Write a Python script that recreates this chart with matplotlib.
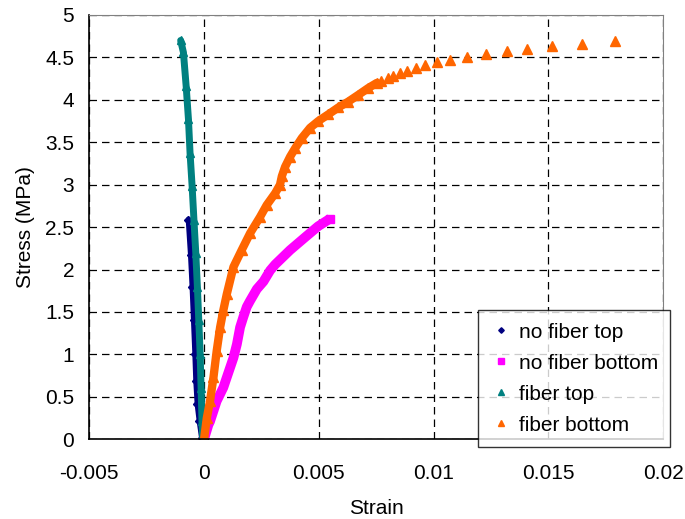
import numpy as np
import matplotlib
matplotlib.use('Agg')
import matplotlib.pyplot as plt

plt.rcParams['font.family'] = ['Liberation Sans', 'DejaVu Sans']

# no fiber top
nft_strain = [0.0, -0.00010, -0.00020, -0.00029, -0.00035, -0.00039, -0.00045, -0.00051, -0.00058, -0.00068]
nft_stress = [0.0, 0.02, 0.21, 0.41, 0.69, 1.00, 1.40, 1.79, 2.17, 2.59]

# no fiber bottom
nfb_strain = [0.0, 0.00019, 0.00026, 0.00055, 0.00084, 0.00099, 0.00128, 0.00143, 0.00157, 0.00171,
              0.00186, 0.0020, 0.0023, 0.00259, 0.00288, 0.0031, 0.00375, 0.0044, 0.00497, 0.00549]
nfb_stress = [0.0, 0.17, 0.21, 0.45, 0.61, 0.73, 0.96, 1.12, 1.32, 1.44,
              1.56, 1.63, 1.77, 1.86, 1.99, 2.06, 2.23, 2.38, 2.51, 2.60]

# fiber top
ft_strain = [-0.00006, -0.00009, -0.00013, -0.00017, -0.00023, -0.00029, -0.00036, -0.00044,
             -0.00052, -0.00061, -0.00068, -0.00078, -0.00090, -0.00102]
ft_stress = [0.02, 0.21, 0.61, 1.00, 1.40, 1.79, 2.19, 2.58, 2.98, 3.37, 3.77, 4.16, 4.56, 4.70]

# fiber bottom (dense part, then sparse tail)
fb_strain = [0.0, 0.00012, 0.00026, 0.00041, 0.00055, 0.00070, 0.00084, 0.00099, 0.00128, 0.00164,
             0.00201, 0.00244, 0.00273, 0.00310, 0.00331, 0.00339, 0.00353, 0.00375, 0.00397, 0.00426,
             0.00462, 0.00498, 0.00542, 0.00585, 0.00629, 0.00673, 0.00716, 0.00753,
             0.007729, 0.008007, 0.008239, 0.008531, 0.008836, 0.009255, 0.009647, 0.010171,
             0.010724, 0.011452, 0.012293, 0.013195, 0.014094, 0.015170, 0.016464, 0.017903]
fb_stress = [0.0, 0.25, 0.45, 0.73, 1.04, 1.32, 1.52, 1.71, 2.03, 2.23,
             2.43, 2.62, 2.76, 2.90, 3.00, 3.10, 3.21, 3.33, 3.43, 3.55,
             3.67, 3.75, 3.83, 3.91, 3.98, 4.06, 4.14, 4.20,
             4.226, 4.254, 4.285, 4.317, 4.345, 4.372, 4.408, 4.443,
             4.470, 4.502, 4.538, 4.570, 4.601, 4.633, 4.660, 4.692]
fb_dense = 28

fig = plt.figure(figsize=(6.85, 5.19), dpi=100)
ax = fig.add_axes([0.1304, 0.1536, 0.8375, 0.8175])

ax.plot(nft_strain, nft_stress, color='#000080', lw=4, solid_capstyle='round')
ax.plot(nft_strain, nft_stress, ls='none', marker='D', ms=4, color='#000080', label='no fiber top')
ax.plot(nfb_strain, nfb_stress, color='#FF00FF', lw=7, solid_capstyle='butt', solid_joinstyle='round')
ax.plot(nfb_strain[-1:], nfb_stress[-1:], ls='none', marker='s', ms=6, color='#FF00FF', label='no fiber bottom')
ax.plot(ft_strain, ft_stress, color='#008080', lw=5, solid_capstyle='round')
ax.plot(ft_strain, ft_stress, ls='none', marker='^', ms=6, color='#008080', label='fiber top')
ax.plot(fb_strain[:fb_dense], fb_stress[:fb_dense], color='#FF6600', lw=6, solid_capstyle='round')
ax.plot(fb_strain, fb_stress, ls='none', marker='^', ms=7, color='#FF6600', label='fiber bottom')

ax.set_xlim(-0.005, 0.02)
ax.set_ylim(0, 5)
ax.set_xticks([-0.005, 0, 0.005, 0.01, 0.015, 0.02])
ax.set_xticklabels(['-0.005', '0', '0.005', '0.01', '0.015', '0.02'])
ax.set_yticks(np.arange(0, 5.01, 0.5))
ax.set_yticklabels(['0', '0.5', '1', '1.5', '2', '2.5', '3', '3.5', '4', '4.5', '5'])
ax.tick_params(length=0, labelsize=15)
ax.tick_params(axis='x', pad=18)
ax.tick_params(axis='y', pad=11)
ax.grid(True, color='black', ls=(0, (6, 4)), lw=0.9)
ax.set_axisbelow(True)
for s in ['top', 'right']:
    ax.spines[s].set_color('#808080')
ax.spines['left'].set_linewidth(1.2)
ax.spines['bottom'].set_linewidth(1.2)

ax.set_xlabel('Strain', fontsize=15, labelpad=11)
ax.set_ylabel('Stress (MPa)', fontsize=15, labelpad=7)

leg = fig.legend(loc='upper left', bbox_to_anchor=(478 / 685, 1 - 310 / 519), fontsize=15,
                 markerscale=0.7, handlelength=1.0, handletextpad=0.35, labelspacing=0.58,
                 frameon=True, fancybox=False, edgecolor='black', borderpad=0.6, borderaxespad=0)
leg.get_frame().set_linewidth(1.0)

fig.savefig('out.png', dpi=100)
